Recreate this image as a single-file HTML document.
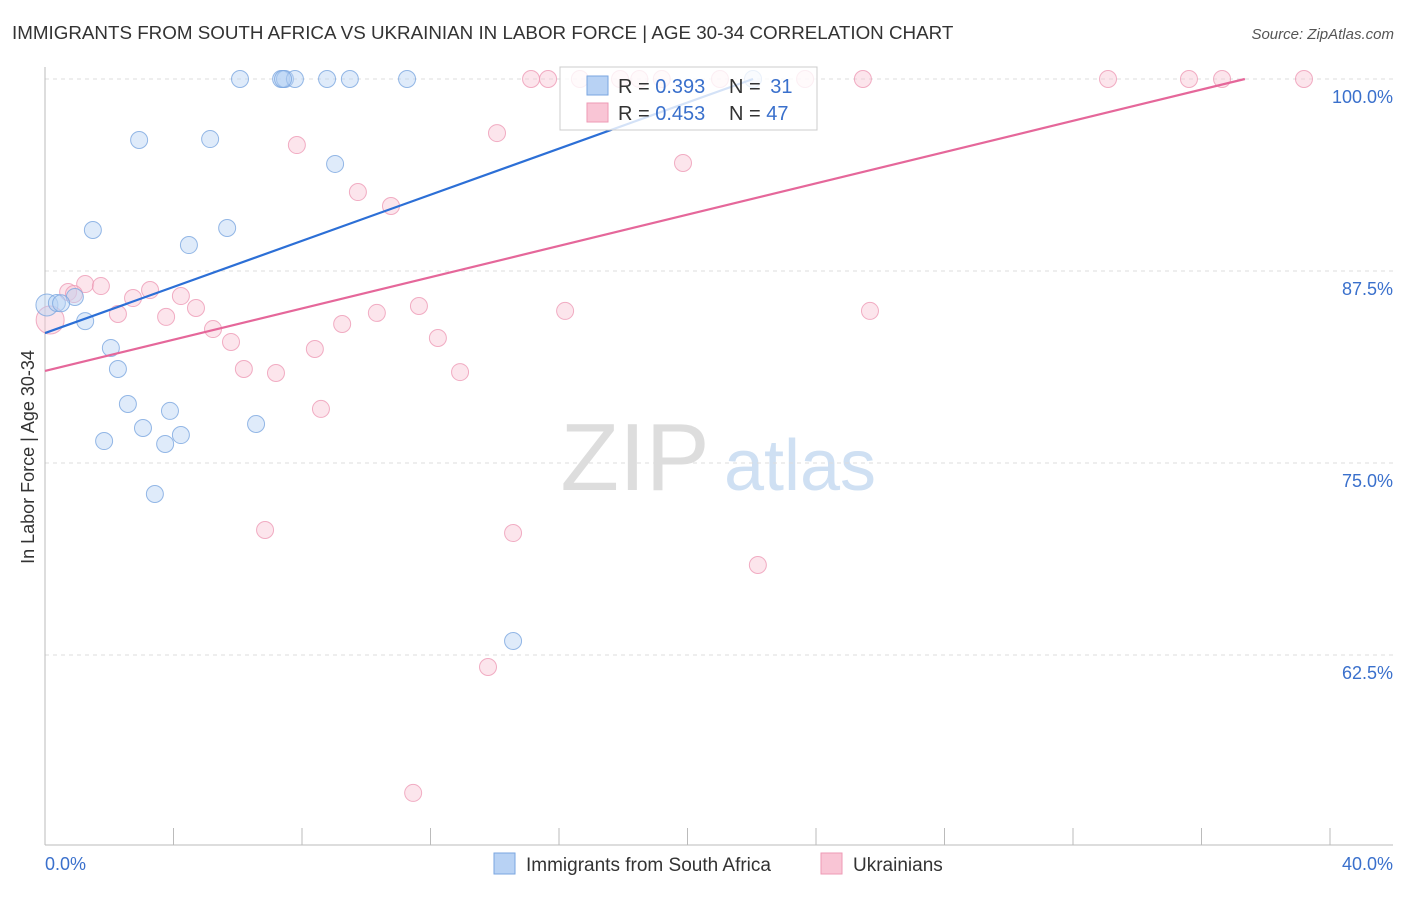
<!DOCTYPE html>
<html><head><meta charset="utf-8"><style>
body{margin:0;background:#fff;font-family:"Liberation Sans",sans-serif;}
svg text{font-family:"Liberation Sans",sans-serif;}
</style></head><body>
<svg id="chart" width="1406" height="892" xmlns="http://www.w3.org/2000/svg">
<text x="12" y="39" font-size="18.8" fill="#333">IMMIGRANTS FROM SOUTH AFRICA VS UKRAINIAN IN LABOR FORCE | AGE 30-34 CORRELATION CHART</text>
<text x="1394" y="39" font-size="15" fill="#555" font-style="italic" text-anchor="end">Source: ZipAtlas.com</text>
<text x="34" y="457" font-size="18" fill="#333" text-anchor="middle" transform="rotate(-90 34 457)">In Labor Force | Age 30-34</text>
<g><text x="635" y="490" font-size="96" fill="#ddd" font-family="Liberation Serif" text-anchor="middle">ZIP</text><text x="800" y="490" font-size="72" fill="#cfe0f3" text-anchor="middle">atlas</text></g>
<g id="grid"></g><g id="axes"></g><g id="pts"></g><g id="lines"></g>
<g>
<rect x="560" y="67" width="257" height="63" fill="#fff" fill-opacity="0.8" stroke="#ccc"/>
<rect x="587" y="76" width="21" height="19" fill="#b8d2f4" stroke="#7aa6e0"/>
<rect x="587" y="103" width="21" height="19" fill="#f9c5d5" stroke="#ee9ab5"/>
<text x="618" y="93" font-size="20" fill="#333">R = <tspan fill="#3a70cc">0.393</tspan></text>
<text x="729" y="93" font-size="20" fill="#333">N = <tspan fill="#3a70cc" dx="4">31</tspan></text>
<text x="618" y="120" font-size="20" fill="#333">R = <tspan fill="#3a70cc">0.453</tspan></text>
<text x="729" y="120" font-size="20" fill="#333">N = <tspan fill="#3a70cc">47</tspan></text>
</g>
<g>
<rect x="494" y="853" width="21" height="21" fill="#b8d2f4" stroke="#7aa6e0"/>
<text x="526" y="871" font-size="19" fill="#333">Immigrants from South Africa</text>
<rect x="821" y="853" width="21" height="21" fill="#f9c5d5" stroke="#ee9ab5"/>
<text x="853" y="871" font-size="19" fill="#333">Ukrainians</text>
</g>
</svg>
<script>
const blueX=[6.07,7.35,7.47,7.78,8.78,9.49,11.27,22.04,7.41,2.93,5.14,9.03,1.49,5.67,4.48,0.06,0.37,0.93,1.25,2.05,2.27,2.58,3.05,3.89,1.84,3.74,4.23,6.57,3.42,14.57,0.5];
const blueY=[100,100,100,100,100,100,100,100,100,96.03,96.09,94.47,90.17,90.30,89.19,85.29,85.42,85.81,84.24,82.49,81.12,78.84,77.28,78.39,76.43,76.24,76.82,77.54,72.98,63.41,85.4];
const pinkX=[15.13,15.66,16.65,17.90,21.01,23.66,25.46,33.09,35.61,36.64,39.19,14.07,7.84,19.86,9.74,10.77,1.25,1.74,3.27,0.72,2.74,4.23,4.70,2.27,3.77,5.23,5.79,0.16,9.25,10.33,11.64,16.19,25.68,12.23,8.40,6.19,7.19,12.92,8.59,6.85,14.57,22.19,13.79,11.46,18.5,19.2,0.9];
const pinkY=[100,100,100,100,100,100,100,100,100,100,100,96.48,95.70,94.53,92.64,91.73,86.65,86.52,86.26,86.13,85.74,85.87,85.09,84.70,84.51,83.72,82.88,84.31,84.05,84.77,85.22,84.90,84.90,83.14,82.42,81.12,80.86,80.92,78.52,70.64,70.44,68.36,61.72,53.52,100,100,86.0];
const blueLine=[[0,83.46],[22.04,100]];
const pinkLine=[[0,80.99],[37.35,100]];
const yTicks=[100,87.5,75,62.5];
const yTickLabels=["100.0%","87.5%","75.0%","62.5%"];
const xTickVals=[0,4,8,12,16,20,24,28,32,36,40];
const xs=v=>45+v*32.125, ys=v=>79+(100-v)*15.36;
const NS="http://www.w3.org/2000/svg";
function mk(p,t,a){const e=document.createElementNS(NS,t);for(const k in a)e.setAttribute(k,a[k]);document.getElementById(p).appendChild(e);return e;}
yTicks.forEach((v,i)=>{
 const l=mk('grid','line',{x1:45,x2:1393,y1:ys(v),y2:ys(v),stroke:'#ddd','stroke-dasharray':'4 4'});
 
 
 const t=mk('grid','text',{x:1393,y:ys(v)+24,'font-size':18,fill:'#3a70cc','text-anchor':'end'});
 t.textContent=yTickLabels[i];
 
 
});
let ax=mk('axes','line',{x1:45,x2:45,y1:67,y2:845,stroke:'#bbb'});


ax=mk('axes','line',{x1:45,x2:1393,y1:845,y2:845,stroke:'#bbb'});


xTickVals.forEach(v=>{const t=mk('axes','line',{x1:xs(v),x2:xs(v),y1:828,y2:845,stroke:'#bbb'});
 
 });
let t0=mk('axes','text',{x:45,y:870,'font-size':18,fill:'#3a70cc'});t0.textContent='0.0%';


t0=mk('axes','text',{x:1393,y:870,'font-size':18,fill:'#3a70cc','text-anchor':'end'});t0.textContent='40.0%';


pinkX.forEach((x,i)=>{const r=(i==27)?14:8.5;const c=mk('pts','circle',{cx:xs(x),cy:ys(pinkY[i]),r:r,fill:'#f9c5d5','fill-opacity':0.45,stroke:'#ee9ab5','stroke-opacity':0.8});
 
 });
blueX.forEach((x,i)=>{const r=(i==15)?11:8.5;const c=mk('pts','circle',{cx:xs(x),cy:ys(blueY[i]),r:r,fill:'#b8d2f4','fill-opacity':0.45,stroke:'#7aa6e0','stroke-opacity':0.8});
 
 });
let L=mk('lines','line',{x1:xs(blueLine[0][0]),y1:ys(blueLine[0][1]),x2:xs(blueLine[1][0]),y2:ys(blueLine[1][1]),stroke:'#2c6fd6','stroke-width':2.2});


L=mk('lines','line',{x1:xs(pinkLine[0][0]),y1:ys(pinkLine[0][1]),x2:xs(pinkLine[1][0]),y2:ys(pinkLine[1][1]),stroke:'#e5679a','stroke-width':2.2});


</script>
</body></html>
